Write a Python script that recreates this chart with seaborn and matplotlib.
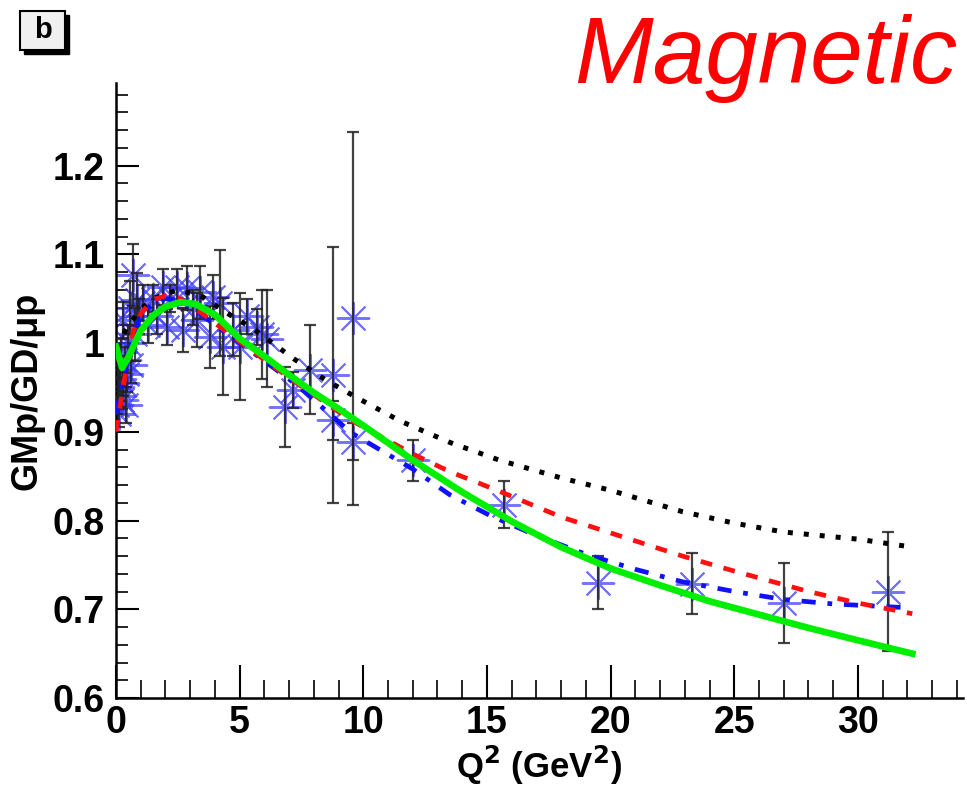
import numpy as np
import pandas as pd
import seaborn as sns
import matplotlib.pyplot as plt
from matplotlib.patches import Rectangle
from matplotlib.ticker import MultipleLocator

# data points: Q^2, GMp/GD/mu_p, error
q2_data = [0.05, 0.08, 0.10, 0.12, 0.15, 0.18, 0.20, 0.24, 0.28, 0.30, 0.36, 0.40,
           0.45, 0.50, 0.55, 0.60, 0.69, 0.75, 0.85, 0.95, 1.10, 1.30, 1.50, 1.66,
           1.90, 2.06, 2.20, 2.47, 2.70, 2.87, 3.10, 3.27, 3.40, 3.80, 3.92, 4.20,
           4.33, 4.73, 5.00, 5.30, 5.70, 5.90, 6.10, 6.83, 7.16, 7.85, 8.77, 8.77,
           9.60, 9.60, 12.0, 15.7, 19.5, 23.3, 27.0, 31.2]
gm_data = [0.930, 0.950, 0.970, 0.920, 0.960, 0.940, 0.990, 0.936, 1.026, 0.955, 0.981, 0.930,
           0.965, 1.000, 1.040, 0.975, 1.077, 1.010, 1.049, 1.030, 1.045, 1.020, 1.050, 1.030,
           1.063, 1.018, 1.050, 1.063, 1.015, 1.062, 1.040, 1.026, 1.057, 1.007, 1.052, 1.045,
           0.996, 1.015, 0.996, 1.030, 1.018, 1.010, 1.005, 0.928, 0.947, 0.970, 0.964, 0.913,
           1.028, 0.889, 0.868, 0.818, 0.730, 0.729, 0.707, 0.720]
gm_err = [0.010, 0.012, 0.010, 0.015, 0.010, 0.012, 0.015, 0.010, 0.020, 0.015, 0.015, 0.020,
          0.020, 0.020, 0.030, 0.020, 0.035, 0.030, 0.030, 0.020, 0.020, 0.020, 0.015, 0.020,
          0.020, 0.020, 0.015, 0.020, 0.025, 0.025, 0.020, 0.030, 0.030, 0.035, 0.025, 0.060,
          0.055, 0.030, 0.060, 0.020, 0.020, 0.050, 0.055, 0.045, 0.020, 0.050, 0.144, 0.022,
          0.210, 0.021, 0.023, 0.026, 0.030, 0.034, 0.045, 0.067]

# model curves
q2_green = [0, 0.25, 0.5, 1, 1.5, 2, 2.6, 3.2, 4, 5, 6, 7, 8, 9, 10, 12, 14, 16, 18,
            20, 22, 24, 26, 28, 30, 32.2]
gm_green = [0.996, 0.972, 0.984, 1.014, 1.031, 1.041, 1.046, 1.044, 1.032, 1.005, 0.985,
            0.964, 0.944, 0.926, 0.907, 0.868, 0.832, 0.799, 0.770, 0.746, 0.727, 0.709,
            0.694, 0.679, 0.665, 0.650]

q2_red = [0, 0.3, 0.7, 1, 1.5, 2, 2.6, 3.4, 4.5, 5.5, 7.3, 9.5, 12, 13.5, 15.5, 18, 20,
          22.9, 25, 28, 30, 32.2]
gm_red = [0.900, 0.952, 1.013, 1.033, 1.049, 1.053, 1.050, 1.035, 1.012, 0.991, 0.955,
          0.913, 0.875, 0.855, 0.833, 0.804, 0.786, 0.760, 0.743, 0.720, 0.707, 0.695]

q2_blue = [0, 0.3, 0.7, 1, 1.5, 2, 2.6, 3.4, 4.5, 5.5, 7.3, 9.5, 12, 13.5, 15.1, 17, 19,
           21, 22.9, 25, 27, 29, 31.8]
gm_blue = [0.920, 0.960, 1.010, 1.030, 1.045, 1.050, 1.048, 1.033, 1.010, 0.990, 0.953,
           0.899, 0.858, 0.829, 0.806, 0.783, 0.762, 0.745, 0.731, 0.720, 0.711, 0.706, 0.702]

q2_black = [0, 0.5, 1, 1.5, 2.5, 3.5, 4.7, 5.5, 7.2, 8.5, 9.7, 11.5, 13.5, 15.5, 18, 20,
            22.9, 25, 27, 30, 32.2]
gm_black = [0.995, 1.020, 1.038, 1.050, 1.060, 1.052, 1.030, 1.017, 0.982, 0.958, 0.939,
            0.912, 0.888, 0.868, 0.848, 0.834, 0.810, 0.797, 0.787, 0.779, 0.770]

ytick_vals = [0.6, 0.7, 0.8, 0.9, 1.0, 1.1, 1.2]
ytick_labels = ['0.6', '0.7', '0.8', '0.9', '1', '1.1', '1.2']

plt.rcParams['font.family'] = ['Liberation Sans', 'DejaVu Sans']

fig = plt.figure(figsize=(9.67, 7.93), dpi=100)
ax = fig.add_axes([116 / 967, 95 / 793, 847 / 967, 615 / 793])

df = pd.DataFrame({'q2': q2_data, 'gm': gm_data, 'err': gm_err})

sns.scatterplot(data=df, x='q2', y='gm', ax=ax, marker=(8, 2, 0), s=520,
                color='#3c3cff', edgecolor='#3c3cff', linewidth=1.4, alpha=0.72,
                zorder=2, legend=False)
ax.errorbar(df['q2'], df['gm'], yerr=df['err'], fmt='none', ecolor='#222222',
            elinewidth=1.6, capsize=4, capthick=1.6, alpha=0.85, zorder=3)

sns.lineplot(x=q2_black, y=gm_black, ax=ax, color='black', linewidth=3.6,
             linestyle=(0, (1.0, 2.2)), dash_capstyle='butt', zorder=4)
sns.lineplot(x=q2_blue, y=gm_blue, ax=ax, color='#1010ff', linewidth=3.4,
             linestyle=(0, (3, 2.5, 1, 2.5)), zorder=5)
sns.lineplot(x=q2_red, y=gm_red, ax=ax, color='#ff1010', linewidth=3.4,
             linestyle=(0, (2.5, 2.5)), zorder=6)
sns.lineplot(x=q2_green, y=gm_green, ax=ax, color='#00ee00', linewidth=4.8,
             linestyle='-', zorder=7)

ax.set_xlim(0, 34.25)
ax.set_ylim(0.6, 1.293)
ax.xaxis.set_major_locator(MultipleLocator(5))
ax.xaxis.set_minor_locator(MultipleLocator(1))
ax.set_yticks(ytick_vals)
ax.set_yticklabels(ytick_labels)
ax.yaxis.set_minor_locator(MultipleLocator(0.02))

for side in ['top', 'right']:
    ax.spines[side].set_visible(False)
for side in ['left', 'bottom']:
    ax.spines[side].set_linewidth(1.8)

ax.tick_params(axis='x', which='major', direction='in', length=24, width=1.5,
               labelsize=27, pad=5)
ax.tick_params(axis='x', which='minor', direction='in', length=13, width=1.2)
ax.tick_params(axis='y', which='major', direction='in', length=16.5, width=1.5,
               labelsize=27, pad=8)
ax.tick_params(axis='y', which='minor', direction='in', length=8.5, width=1.2)
for lab in ax.get_xticklabels() + ax.get_yticklabels():
    lab.set_fontweight('bold')

ax.set_xlabel('Q$^{\\mathbf{2}}$ (GeV$^{\\mathbf{2}}$)', fontsize=25,
              fontweight='bold', labelpad=2)
ax.set_ylabel('GMp/GD/\u03bcp', fontsize=26, fontweight='bold', labelpad=6)

fig.text(0.99, 1 - 83 / 793, 'Magnetic', color='red', fontsize=68,
         fontstyle='italic', ha='right', va='baseline')

# panel label box with shadow
fig.patches.append(Rectangle((24 / 967, 1 - 54 / 793), 45 / 967, 39 / 793,
                             transform=fig.transFigure, facecolor='black',
                             edgecolor='black', zorder=1))
fig.patches.append(Rectangle((20 / 967, 1 - 50 / 793), 45 / 967, 39 / 793,
                             transform=fig.transFigure, facecolor='#f0f0f0',
                             edgecolor='black', linewidth=1.5, zorder=2))
fig.text(42.5 / 967, 1 - 30.5 / 793, 'b', fontsize=21, fontweight='bold',
         ha='center', va='center', zorder=3)

fig.savefig('out.png', dpi=100)
